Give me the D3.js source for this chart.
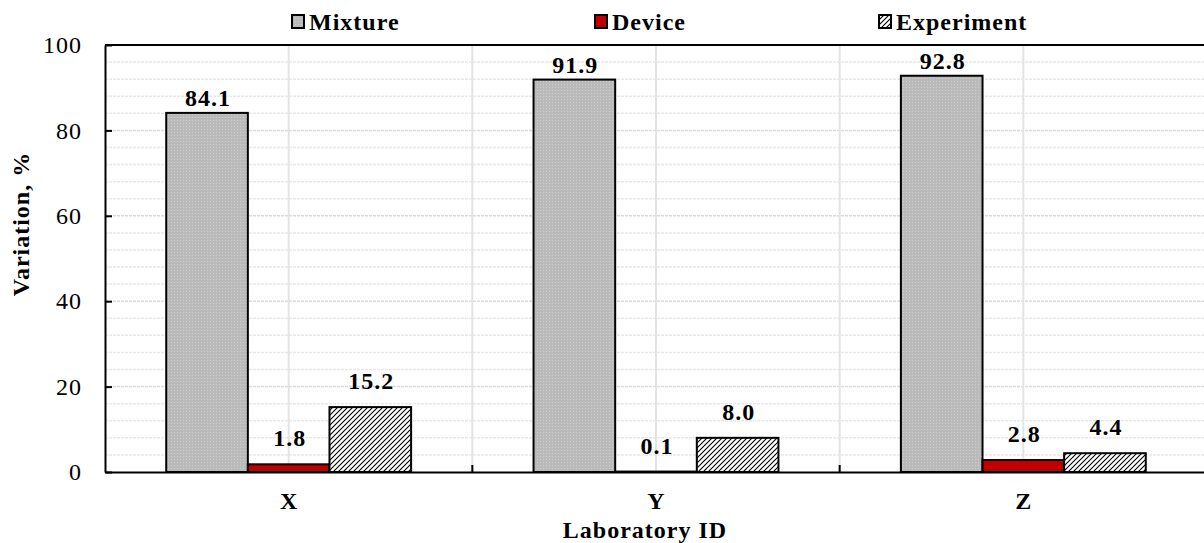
<!DOCTYPE html>
<html>
<head>
<meta charset="utf-8">
<script src="https://cdn.jsdelivr.net/npm/d3@7"></script>
<style>
  body { margin: 0; background: #fff; }
  text { font-family: "Liberation Serif", "Times New Roman", serif; }
</style>
</head>
<body>
<div id="chart"></div>
<script>
// chart data
var categories = ["X", "Y", "Z"];
var seriesNames = ["Mixture", "Device", "Experiment"];
var mixture = [84.1, 91.9, 92.8];
var device = [1.8, 0.1, 2.8];
var experiment = [15.2, 8.0, 4.4];
var yTicks = [0, 20, 40, 60, 80, 100];

var W = 1204, H = 543;
var plotLeft = 105, plotRight = 1207, plotTop = 45, plotBottom = 472;

var svg = d3.select('#chart').append('svg')
  .attr('width', W)
  .attr('height', H);

var defs = svg.append('defs');

// dotted grey fill
var pg = defs.append('pattern').attr('id', 'dots')
  .attr('width', 3).attr('height', 3).attr('patternUnits', 'userSpaceOnUse');
pg.append('rect').attr('width', 3).attr('height', 3).attr('fill', '#bababa');
pg.append('rect').attr('width', 1).attr('height', 1).attr('fill', '#cfcfcf');

// diagonal hatch
var ph = defs.append('pattern').attr('id', 'hatch')
  .attr('width', 5).attr('height', 5).attr('patternUnits', 'userSpaceOnUse');
ph.append('rect').attr('width', 5).attr('height', 5).attr('fill', '#fff');
ph.append('path').attr('d', 'M-1,1 L1,-1 M0,5 L5,0 M4,6 L6,4')
  .attr('stroke', '#000').attr('stroke-width', 1.1);

var fills = { Mixture: 'url(#dots)', Device: '#c00000', Experiment: 'url(#hatch)' };
var values = { Mixture: mixture, Device: device, Experiment: experiment };
var labelOffset = { Mixture: 7, Device: 18, Experiment: 18 };

var y = d3.scaleLinear().domain([0, 100]).range([plotBottom, plotTop]);
var x = d3.scaleBand().domain(categories).range([plotLeft, plotRight]);
var bw = x.bandwidth();
var gap = bw * 0.75 / 4.5;
var xs = d3.scaleBand().domain(seriesNames).range([gap, bw - gap]);

// minor gridlines
var minor = d3.range(4, 100, 4).filter(function(v) { return v % 20 != 0; });
svg.append('g').selectAll('line').data(minor).enter().append('line')
  .attr('x1', plotLeft).attr('x2', plotRight)
  .attr('y1', function(d) { return y(d); }).attr('y2', function(d) { return y(d); })
  .attr('stroke', '#e8e8e8').attr('stroke-width', 1.5).attr('stroke-dasharray', '3,1');

// major gridlines
svg.append('g').selectAll('line').data(yTicks.slice(1, 5)).enter().append('line')
  .attr('x1', plotLeft).attr('x2', plotRight)
  .attr('y1', function(d) { return y(d); }).attr('y2', function(d) { return y(d); })
  .attr('stroke', '#dadada').attr('stroke-width', 1.5).attr('stroke-dasharray', '3,1');

// vertical gridlines at centres and boundaries
var vlines = [];
categories.forEach(function(c, i) {
  vlines.push(x(c) + bw / 2);
  if (i > 0) vlines.push(x(c));
});
svg.append('g').selectAll('line').data(vlines).enter().append('line')
  .attr('x1', function(d) { return d; }).attr('x2', function(d) { return d; })
  .attr('y1', plotTop).attr('y2', plotBottom)
  .attr('stroke', '#e3e3e3').attr('stroke-width', 2);

// bars
categories.forEach(function(c, i) {
  seriesNames.forEach(function(s) {
    var v = values[s][i];
    svg.append('rect')
      .attr('x', x(c) + xs(s))
      .attr('y', y(v))
      .attr('width', xs.bandwidth())
      .attr('height', plotBottom - y(v))
      .attr('fill', fills[s])
      .attr('stroke', '#000')
      .attr('stroke-width', 2);
    svg.append('text')
      .attr('x', x(c) + xs(s) + xs.bandwidth() / 2 + 1)
      .attr('y', y(v) - labelOffset[s])
      .attr('text-anchor', 'middle')
      .attr('font-size', 24).attr('font-weight', 'bold')
      .attr('letter-spacing', 1)
      .text(v.toFixed(1));
  });
});

// frame
svg.append('line').attr('x1', plotLeft).attr('x2', plotRight).attr('y1', plotTop).attr('y2', plotTop)
  .attr('stroke', '#000').attr('stroke-width', 2);

var yAxis = d3.axisLeft(y).tickValues(yTicks).tickSizeInner(-7).tickSizeOuter(0).tickPadding(23);
var gy = svg.append('g').attr('transform', 'translate(' + plotLeft + ',0)').call(yAxis);
gy.select('.domain').attr('stroke', '#000').attr('stroke-width', 2);
gy.selectAll('.tick line').attr('stroke', '#000').attr('stroke-width', 2);
gy.selectAll('.tick text')
  .attr('font-family', '"Liberation Serif", serif')
  .attr('font-size', 24).attr('fill', '#000').attr('letter-spacing', 1);

var xAxis = d3.axisBottom(x).tickSize(0).tickPadding(20);
var gx = svg.append('g').attr('transform', 'translate(0,' + plotBottom + ')').call(xAxis);
gx.select('.domain').attr('stroke', '#000').attr('stroke-width', 2);
gx.selectAll('.tick text')
  .attr('font-family', '"Liberation Serif", serif')
  .attr('font-size', 24).attr('font-weight', 'bold').attr('fill', '#000');

// category boundary ticks
svg.append('g').selectAll('line').data(categories.slice(1)).enter().append('line')
  .attr('x1', function(d) { return x(d); }).attr('x2', function(d) { return x(d); })
  .attr('y1', plotBottom).attr('y2', plotBottom - 7)
  .attr('stroke', '#000').attr('stroke-width', 2);

// axis titles
svg.append('text')
  .attr('x', 645).attr('y', 538)
  .attr('text-anchor', 'middle')
  .attr('font-size', 24).attr('font-weight', 'bold').attr('letter-spacing', 1)
  .text('Laboratory ID');

svg.append('text')
  .attr('transform', 'translate(29,224) rotate(-90)')
  .attr('text-anchor', 'middle')
  .attr('font-size', 24).attr('font-weight', 'bold').attr('letter-spacing', 1)
  .text('Variation, %');

// legend
var legendX = [292, 595, 879];
seriesNames.forEach(function(s, i) {
  var g = svg.append('g').attr('transform', 'translate(' + legendX[i] + ',15)');
  g.append('rect').attr('width', 12).attr('height', 13)
    .attr('fill', fills[s]).attr('stroke', '#000').attr('stroke-width', 2);
  g.append('text').attr('x', 17).attr('y', 15)
    .attr('font-size', 24).attr('font-weight', 'bold').attr('letter-spacing', 1)
    .text(s);
});
</script>
</body>
</html>
